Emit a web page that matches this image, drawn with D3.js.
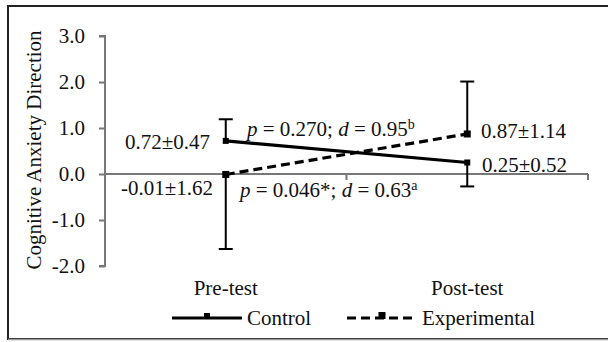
<!DOCTYPE html>
<html>
<head>
<meta charset="utf-8">
<script src="https://cdn.jsdelivr.net/npm/d3@7"></script>
<style>
  body { margin: 0; background: #fff; }
  text { font-family: "Liberation Serif", "Times New Roman", serif; fill: #111; }
</style>
</head>
<body>
<svg id="chart" width="608" height="342"></svg>
<script>
// values
var categories = ["Pre-test", "Post-test"];
var control = [0.72, 0.25];
var controlSD = [0.47, 0.52];
var controlBarDir = [1, -1];      // only one half of each error bar is drawn
var experimental = [-0.01, 0.87];
var experimentalSD = [1.62, 1.14];
var experimentalBarDir = [-1, 1];
var yTicks = [-2, -1, 0, 1, 2, 3];

var svg = d3.select('#chart');
var FS = '21px';

// frame around the figure
svg.append('rect')
    .attr('x', 8).attr('y', 6)
    .attr('width', 640).attr('height', 333)
    .style('fill', 'none').style('stroke', '#222').style('stroke-width', 2);
svg.append('line')
    .attr('x1', 8).attr('x2', 608).attr('y1', 339.5).attr('y2', 339.5)
    .style('stroke', '#999').style('stroke-width', 1.5);

var x = d3.scaleBand().domain(categories).range([105, 588]);
var y = d3.scaleLinear().domain([-2, 3]).range([266, 36]);
var cx = function(i) { return x(categories[i]) + x.bandwidth() / 2; };

// y axis
var f1 = d3.format('.1f');
var yAxis = svg.append('g').attr('transform', 'translate(105,0)')
    .call(d3.axisLeft(y).tickValues(yTicks).tickSize(6).tickPadding(14)
        .tickFormat(function(d) { return f1(d).replace('\u2212', '-'); }));
yAxis.selectAll('path, line').style('stroke', '#777').style('stroke-width', 2);
yAxis.selectAll('.domain').attr('d', 'M-6,' + y(3) + 'H0V' + y(-2) + 'H-6');
yAxis.selectAll('text').style('font-size', FS)
    .style('font-family', '"Liberation Serif", serif').style('fill', '#111');

// x axis along zero
var xAxis = svg.append('g').attr('transform', 'translate(0,' + y(0) + ')');
xAxis.append('line')
    .attr('x1', 105).attr('x2', 588).attr('y1', 0).attr('y2', 0)
    .style('stroke', '#777').style('stroke-width', 2);
xAxis.selectAll('line.tk')
    .data([x(categories[1]), 588])
    .enter().append('line')
    .attr('class', 'tk')
    .attr('x1', function(d) { return d; }).attr('x2', function(d) { return d; })
    .attr('y1', 0).attr('y2', 6)
    .style('stroke', '#777').style('stroke-width', 2);

// category labels
svg.selectAll('text.cat')
    .data(categories)
    .enter().append('text')
    .attr('class', 'cat')
    .attr('x', function(d, i) { return cx(i); })
    .attr('y', 295)
    .attr('text-anchor', 'middle')
    .style('font-size', FS)
    .text(function(d) { return d; });

// axis title
svg.append('text')
    .attr('transform', 'translate(41,150) rotate(-90)')
    .attr('text-anchor', 'middle')
    .style('font-size', '21px')
    .text('Cognitive Anxiety Direction');

function drawSeries(vals, sd, dir, dash, msize) {
    var line = d3.line()
        .x(function(d, i) { return cx(i); })
        .y(function(d) { return y(d); });
    // error bars
    vals.forEach(function(v, i) {
        var end = y(v + dir[i] * sd[i]);
        svg.append('line')
            .attr('x1', cx(i)).attr('x2', cx(i))
            .attr('y1', y(v)).attr('y2', end)
            .style('stroke', '#000').style('stroke-width', 2);
        svg.append('line')
            .attr('x1', cx(i) - 7).attr('x2', cx(i) + 7)
            .attr('y1', end).attr('y2', end)
            .style('stroke', '#000').style('stroke-width', 2);
    });
    svg.append('path')
        .datum(vals)
        .attr('d', line)
        .style('fill', 'none').style('stroke', '#000').style('stroke-width', 3.2)
        .style('stroke-dasharray', dash);
    svg.selectAll(null)
        .data(vals)
        .enter().append('rect')
        .attr('x', function(d, i) { return cx(i) - msize / 2; })
        .attr('y', function(d) { return y(d) - msize / 2; })
        .attr('width', msize).attr('height', msize)
        .style('fill', '#000');
}

drawSeries(control, controlSD, controlBarDir, null, 6);
drawSeries(experimental, experimentalSD, experimentalBarDir, '9,5', 7);

// value labels
var fmt = d3.format('.2f');
function valueLabel(v, s, xp, yp, anchor) {
    svg.append('text')
        .attr('x', xp).attr('y', yp)
        .attr('text-anchor', anchor)
        .style('font-size', FS)
        .text((fmt(v) + '\u00b1' + fmt(s)).replace('\u2212', '-'));
}
valueLabel(control[0], controlSD[0], 210, 149, 'end');
valueLabel(experimental[0], experimentalSD[0], 213, 195, 'end');
valueLabel(experimental[1], experimentalSD[1], 481, 138, 'start');
valueLabel(control[1], controlSD[1], 482, 172, 'start');

// significance notes
function statNote(p, d, sup, xp, yp) {
    var t = svg.append('text').attr('x', xp).attr('y', yp).style('font-size', FS);
    t.append('tspan').style('font-style', 'italic').text('p');
    t.append('tspan').text(' = ' + p + '; ');
    t.append('tspan').style('font-style', 'italic').text('d');
    t.append('tspan').text(' = ' + d);
    t.append('tspan').attr('dy', -7).style('font-size', '14px').text(sup);
}
statNote('0.270', '0.95', 'b', 247, 136);
statNote('0.046*', '0.63', 'a', 240, 197);

// legend
var legend = [
    { name: 'Control', dash: null, m: 6, x0: 172 },
    { name: 'Experimental', dash: '9,5', m: 7, x0: 347 }
];
legend.forEach(function(l) {
    var g = svg.append('g').attr('transform', 'translate(' + l.x0 + ',318)');
    g.append('line')
        .attr('x1', 0).attr('x2', 70).attr('y1', 0).attr('y2', 0)
        .style('stroke', '#000').style('stroke-width', 3.2)
        .style('stroke-dasharray', l.dash);
    g.append('rect')
        .attr('x', 35 - l.m / 2).attr('y', -l.m + 1)
        .attr('width', l.m).attr('height', l.m)
        .style('fill', '#000');
    g.append('text')
        .attr('x', 75).attr('y', 7)
        .style('font-size', FS)
        .text(l.name);
});
</script>
</body>
</html>
